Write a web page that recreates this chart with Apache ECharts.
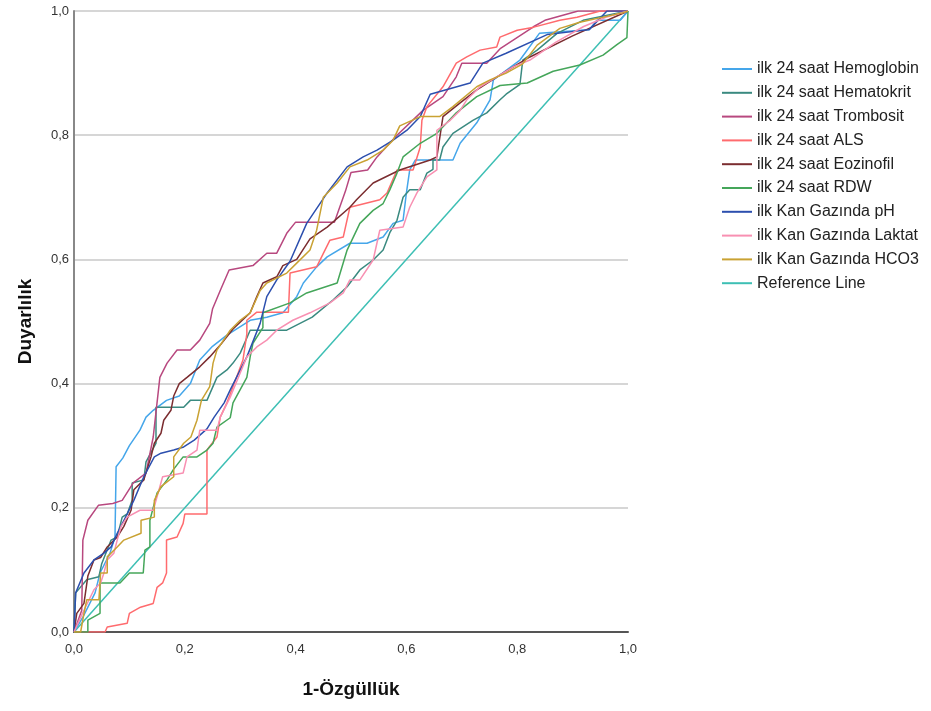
<!DOCTYPE html>
<html>
<head>
<meta charset="utf-8">
<script src="https://cdn.jsdelivr.net/npm/echarts@6/dist/echarts.min.js"></script>
<style>
  html, body { margin: 0; padding: 0; background: #fff; }
  #chart { width: 931px; height: 711px; }
</style>
</head>
<body>
<div id="chart"></div>
<script>
// ROC curves, points are [1-specificity, sensitivity]
const seriesNames = [
  'ilk 24 saat Hemoglobin', 'ilk 24 saat Hematokrit', 'ilk 24 saat Trombosit',
  'ilk 24 saat ALS', 'ilk 24 saat Eozinofil', 'ilk 24 saat RDW',
  'ilk Kan Gazında pH', 'ilk Kan Gazında Laktat', 'ilk Kan Gazında HCO3', 'Reference Line'
];
const tickValues = [0, 0.2, 0.4, 0.6, 0.8, 1.0];

const hemoglobin = [[0,0],[0.016,0.024],[0.038,0.063],[0.047,0.095],[0.065,0.127],[0.074,0.153],[0.076,0.266],[0.088,0.28],[0.10,0.30],[0.119,0.325],[0.13,0.346],[0.143,0.357],[0.167,0.373],[0.19,0.38],[0.21,0.40],[0.227,0.438],[0.25,0.46],[0.276,0.478],[0.318,0.502],[0.348,0.507],[0.377,0.514],[0.402,0.54],[0.414,0.562],[0.438,0.588],[0.457,0.604],[0.498,0.626],[0.529,0.626],[0.558,0.636],[0.576,0.658],[0.594,0.663],[0.60,0.707],[0.606,0.744],[0.616,0.76],[0.684,0.76],[0.697,0.787],[0.727,0.82],[0.751,0.857],[0.757,0.889],[0.805,0.921],[0.84,0.964],[0.93,0.97],[0.944,0.985],[0.986,0.985],[1,1]];
const hematokrit = [[0,0],[0.003,0.063],[0.023,0.084],[0.045,0.089],[0.05,0.11],[0.067,0.148],[0.078,0.153],[0.087,0.185],[0.096,0.19],[0.105,0.212],[0.105,0.24],[0.126,0.245],[0.13,0.274],[0.148,0.304],[0.148,0.362],[0.198,0.362],[0.21,0.373],[0.24,0.373],[0.258,0.41],[0.276,0.422],[0.287,0.433],[0.30,0.449],[0.318,0.486],[0.384,0.486],[0.43,0.507],[0.468,0.535],[0.493,0.556],[0.516,0.583],[0.54,0.599],[0.558,0.615],[0.57,0.643],[0.583,0.663],[0.594,0.70],[0.606,0.712],[0.625,0.712],[0.637,0.739],[0.648,0.745],[0.648,0.76],[0.66,0.76],[0.666,0.781],[0.684,0.803],[0.72,0.824],[0.745,0.836],[0.769,0.857],[0.78,0.866],[0.805,0.882],[0.81,0.921],[0.836,0.937],[0.872,0.964],[0.919,0.985],[1,1]];
const trombosit = [[0,0],[0.014,0.035],[0.016,0.148],[0.025,0.18],[0.044,0.204],[0.07,0.207],[0.087,0.212],[0.107,0.24],[0.13,0.256],[0.143,0.314],[0.155,0.41],[0.168,0.433],[0.186,0.454],[0.21,0.454],[0.227,0.47],[0.245,0.497],[0.25,0.52],[0.264,0.55],[0.28,0.583],[0.323,0.59],[0.348,0.61],[0.366,0.61],[0.384,0.642],[0.40,0.66],[0.47,0.66],[0.49,0.71],[0.50,0.74],[0.53,0.744],[0.547,0.765],[0.583,0.80],[0.63,0.84],[0.666,0.862],[0.69,0.894],[0.70,0.916],[0.745,0.916],[0.77,0.94],[0.83,0.975],[0.85,0.985],[0.91,1],[1,1]];
const als = [[0,0],[0.056,0],[0.06,0.008],[0.096,0.014],[0.10,0.03],[0.12,0.04],[0.143,0.046],[0.15,0.072],[0.16,0.079],[0.167,0.095],[0.167,0.148],[0.186,0.153],[0.197,0.175],[0.20,0.19],[0.24,0.19],[0.24,0.293],[0.258,0.314],[0.264,0.346],[0.276,0.369],[0.287,0.395],[0.305,0.438],[0.312,0.48],[0.312,0.502],[0.33,0.515],[0.387,0.515],[0.39,0.578],[0.438,0.588],[0.462,0.631],[0.486,0.636],[0.498,0.684],[0.552,0.696],[0.565,0.707],[0.583,0.744],[0.612,0.744],[0.625,0.781],[0.628,0.824],[0.637,0.846],[0.666,0.878],[0.69,0.916],[0.709,0.926],[0.733,0.937],[0.763,0.942],[0.769,0.958],[0.80,0.969],[0.83,0.974],[0.877,0.985],[0.908,0.99],[0.95,1],[1,1]];
const eozinofil = [[0,0],[0.005,0.03],[0.018,0.046],[0.025,0.09],[0.036,0.116],[0.048,0.12],[0.06,0.137],[0.078,0.153],[0.09,0.17],[0.103,0.196],[0.108,0.229],[0.126,0.245],[0.139,0.282],[0.145,0.304],[0.157,0.32],[0.162,0.341],[0.175,0.357],[0.18,0.38],[0.19,0.40],[0.204,0.41],[0.227,0.427],[0.245,0.443],[0.264,0.462],[0.287,0.488],[0.318,0.514],[0.33,0.54],[0.341,0.562],[0.366,0.572],[0.377,0.59],[0.402,0.60],[0.426,0.633],[0.457,0.652],[0.498,0.684],[0.51,0.696],[0.54,0.723],[0.588,0.744],[0.643,0.76],[0.655,0.765],[0.666,0.83],[0.697,0.852],[0.727,0.873],[0.78,0.903],[0.823,0.926],[0.9,0.96],[1,1]];
const rdw = [[0,0],[0.025,0],[0.025,0.019],[0.047,0.03],[0.047,0.079],[0.083,0.079],[0.10,0.095],[0.125,0.095],[0.128,0.132],[0.137,0.137],[0.137,0.18],[0.15,0.224],[0.168,0.245],[0.179,0.261],[0.197,0.282],[0.222,0.282],[0.24,0.293],[0.251,0.304],[0.258,0.33],[0.282,0.345],[0.287,0.369],[0.312,0.41],[0.318,0.443],[0.323,0.465],[0.341,0.49],[0.341,0.514],[0.39,0.53],[0.42,0.546],[0.475,0.562],[0.493,0.615],[0.516,0.658],[0.54,0.679],[0.558,0.69],[0.57,0.712],[0.583,0.739],[0.594,0.765],[0.625,0.787],[0.655,0.803],[0.69,0.836],[0.727,0.862],[0.769,0.88],[0.818,0.884],[0.865,0.903],[0.913,0.913],[0.955,0.929],[0.98,0.946],[0.998,0.957],[1,1]];
const ph = [[0,0],[0.003,0.063],[0.018,0.095],[0.036,0.116],[0.054,0.127],[0.067,0.137],[0.078,0.159],[0.096,0.19],[0.108,0.212],[0.126,0.25],[0.145,0.282],[0.157,0.288],[0.18,0.293],[0.198,0.298],[0.217,0.309],[0.24,0.327],[0.253,0.346],[0.271,0.369],[0.282,0.39],[0.312,0.443],[0.336,0.497],[0.348,0.54],[0.366,0.567],[0.39,0.597],[0.42,0.658],[0.457,0.707],[0.493,0.749],[0.522,0.765],[0.547,0.776],[0.576,0.792],[0.601,0.808],[0.625,0.83],[0.643,0.866],[0.715,0.884],[0.738,0.916],[0.78,0.932],[0.854,0.962],[0.93,0.97],[0.962,1],[1,1]];
const laktat = [[0,0],[0.01,0.02],[0.018,0.035],[0.036,0.068],[0.048,0.079],[0.054,0.095],[0.06,0.116],[0.072,0.127],[0.078,0.148],[0.085,0.17],[0.096,0.185],[0.119,0.196],[0.143,0.196],[0.15,0.218],[0.16,0.25],[0.197,0.256],[0.204,0.282],[0.222,0.293],[0.227,0.325],[0.258,0.325],[0.264,0.346],[0.282,0.378],[0.30,0.417],[0.312,0.443],[0.33,0.459],[0.348,0.47],[0.366,0.486],[0.395,0.502],[0.426,0.514],[0.462,0.53],[0.486,0.546],[0.498,0.567],[0.516,0.567],[0.54,0.599],[0.552,0.647],[0.594,0.652],[0.606,0.684],[0.619,0.707],[0.637,0.733],[0.655,0.744],[0.655,0.808],[0.679,0.824],[0.697,0.84],[0.709,0.857],[0.733,0.878],[0.763,0.894],[0.793,0.91],[0.823,0.921],[0.87,0.95],[0.92,0.975],[0.96,0.99],[1,1]];
const hco3 = [[0,0],[0.012,0],[0.018,0.03],[0.023,0.052],[0.045,0.052],[0.048,0.095],[0.06,0.095],[0.06,0.121],[0.078,0.137],[0.09,0.148],[0.121,0.159],[0.121,0.18],[0.145,0.185],[0.145,0.212],[0.157,0.234],[0.18,0.25],[0.18,0.282],[0.198,0.304],[0.211,0.314],[0.222,0.341],[0.23,0.373],[0.245,0.395],[0.251,0.433],[0.258,0.454],[0.282,0.486],[0.30,0.502],[0.318,0.514],[0.336,0.55],[0.348,0.562],[0.384,0.578],[0.402,0.594],[0.426,0.615],[0.438,0.647],[0.45,0.70],[0.475,0.723],[0.498,0.749],[0.529,0.76],[0.558,0.776],[0.576,0.792],[0.588,0.815],[0.625,0.83],[0.66,0.83],[0.684,0.846],[0.727,0.878],[0.751,0.889],[0.78,0.9],[0.81,0.915],[0.836,0.945],[0.877,0.972],[0.913,0.982],[0.99,0.997],[1,1]];
const referenceLine = [[0,0],[1,1]];

const seriesData = [hemoglobin, hematokrit, trombosit, als, eozinofil, rdw, ph, laktat, hco3, referenceLine];
const colors = ['#45a6ea', '#3a8a80', '#b8487f', '#ff6b6e', '#7b2d30', '#45a65a', '#2c4fae', '#f890b2', '#c9a233', '#3dbfb4'];

const font = 'Liberation Sans, Arial, sans-serif';
const fmt = v => v.toFixed(1).replace('.', ',');

const chart = echarts.init(document.getElementById('chart'));
chart.setOption({
  animation: false,
  color: colors,
  textStyle: { fontFamily: font },
  grid: { left: 74, top: 11, right: 303, bottom: 79 },
  legend: {
    orient: 'vertical',
    left: 717,
    top: 55,
    icon: 'rect',
    itemWidth: 30,
    itemHeight: 2,
    itemGap: 5.8,
    textStyle: { fontFamily: font, fontSize: 16, color: '#222', lineHeight: 18 },
    data: seriesNames
  },
  xAxis: {
    type: 'value', min: 0, max: 1, interval: 0.2,
    name: '1-Özgüllük', nameLocation: 'middle', nameGap: 48,
    nameTextStyle: { fontFamily: font, fontSize: 19, fontWeight: 'bold', color: '#111' },
    axisLine: { lineStyle: { color: '#555', width: 2 } },
    axisTick: { show: false },
    splitLine: { show: false },
    axisLabel: { formatter: fmt, fontSize: 13, color: '#333', margin: 11 }
  },
  yAxis: {
    type: 'value', min: 0, max: 1, interval: 0.2,
    name: 'Duyarlılık', nameLocation: 'middle', nameGap: 39,
    nameTextStyle: { fontFamily: font, fontSize: 19, fontWeight: 'bold', color: '#111' },
    axisLine: { show: true, lineStyle: { color: '#888', width: 2 } },
    axisTick: { show: false },
    splitLine: { lineStyle: { color: '#c8c8c8', width: 1.5 } },
    axisLabel: { formatter: fmt, fontSize: 13, color: '#333', margin: 5 }
  },
  series: seriesNames.map((name, i) => ({
    name: name,
    type: 'line',
    data: seriesData[i],
    symbol: 'none',
    lineStyle: { width: 1.5 },
    z: i === 9 ? 1 : 2
  }))
});
</script>
</body>
</html>
